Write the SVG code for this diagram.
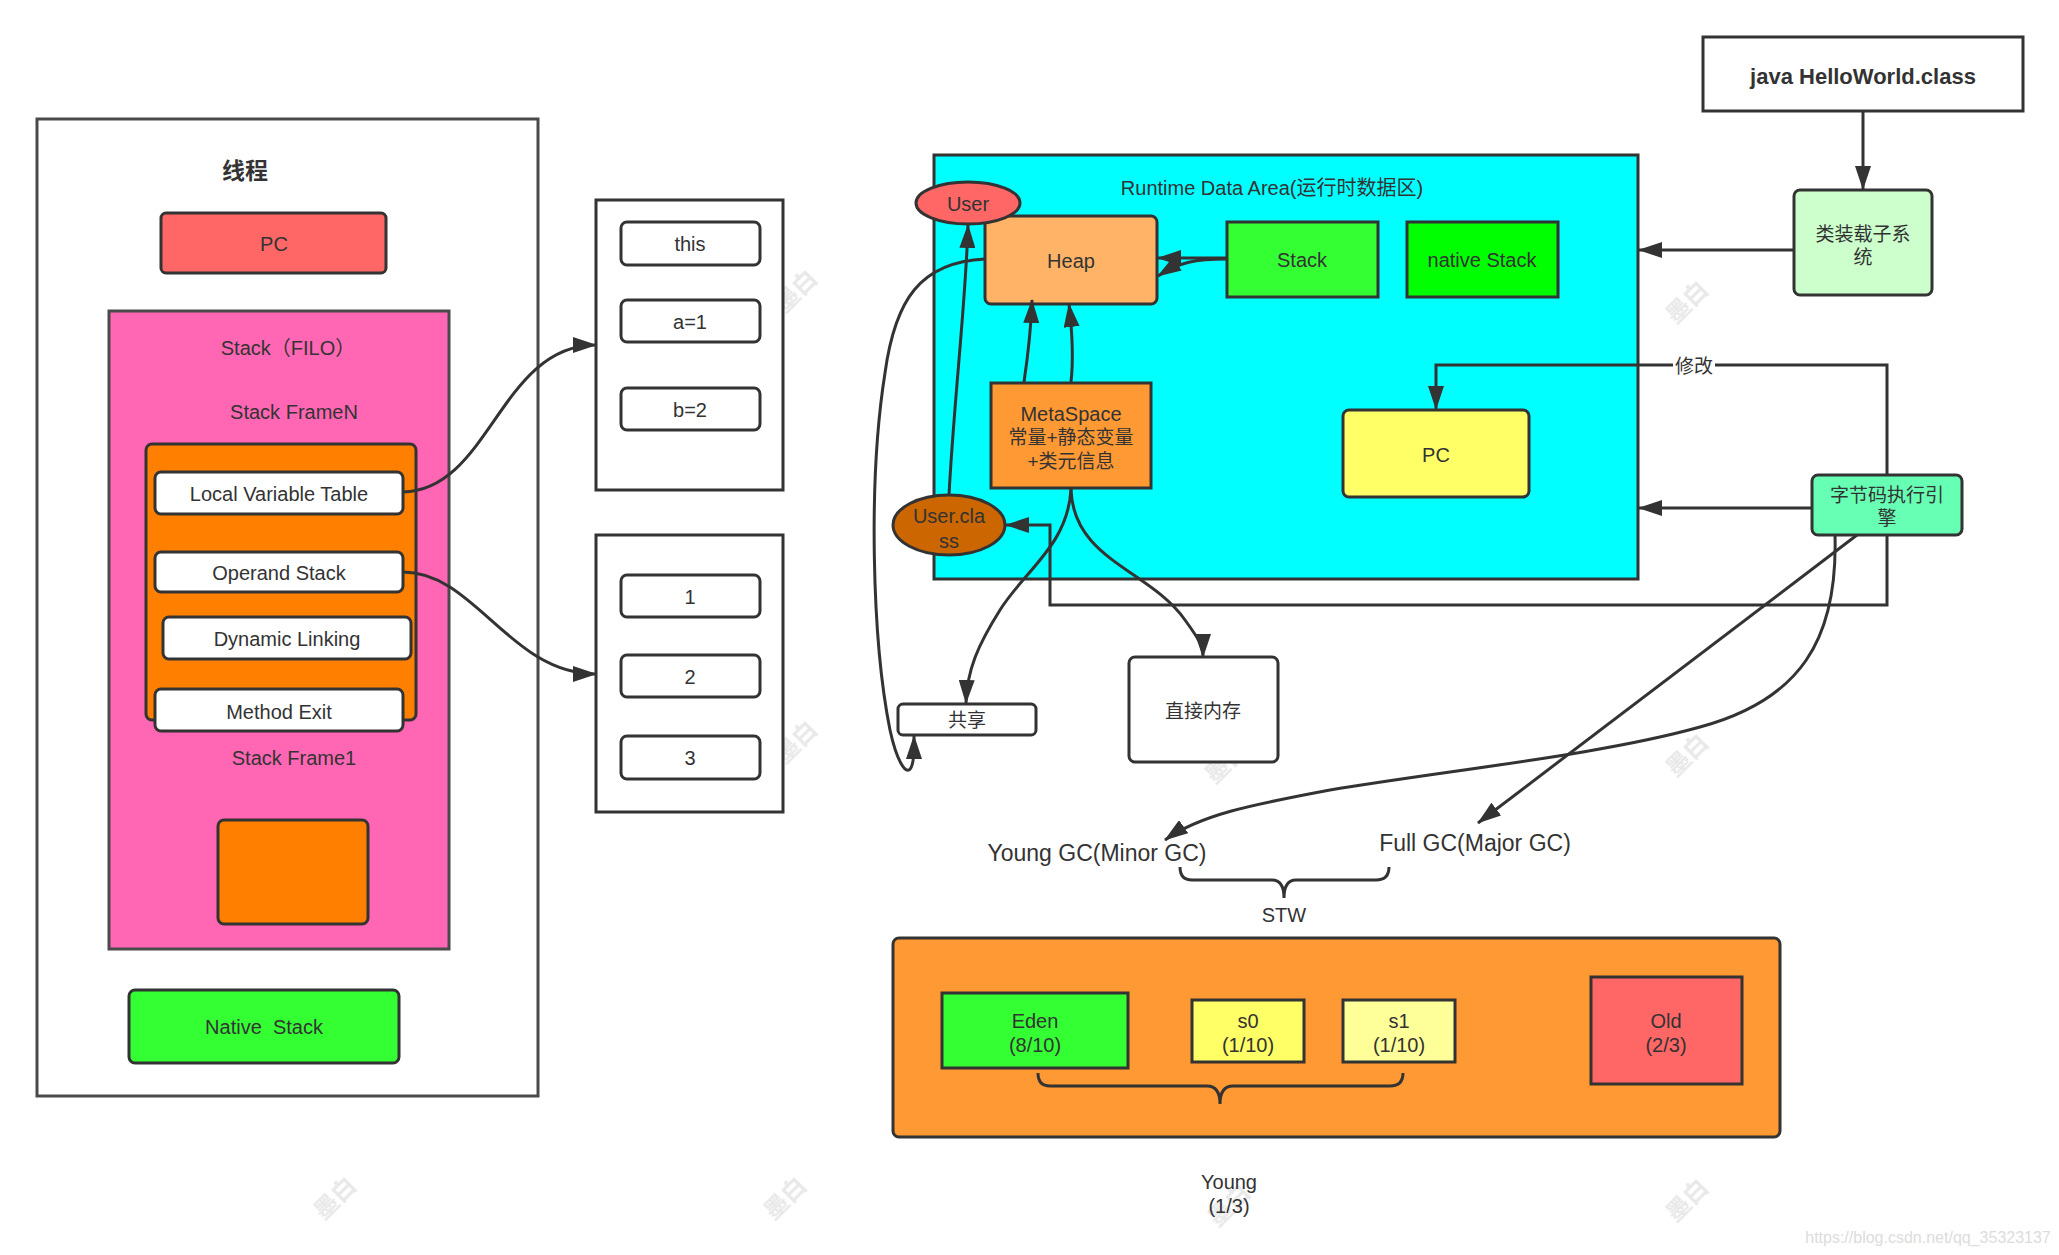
<svg xmlns="http://www.w3.org/2000/svg" width="2059" height="1255" viewBox="0 0 2059 1255">
<defs>
<style>
text{font-family:"Liberation Sans","Noto Sans CJK SC",sans-serif;fill:#333;text-anchor:middle;dominant-baseline:central;font-size:20px}
.s{stroke:#333;stroke-width:3}
.g{stroke:#4a4a4a;stroke-width:3}
.c{fill:none;stroke:#333;stroke-width:3}
.a{marker-end:url(#ah)}
.f19{font-size:19px}
.gc{font-size:23px}
.wm{fill:#e9e9e9;font-size:24px;font-weight:bold}
</style>
<marker id="ah" markerUnits="userSpaceOnUse" markerWidth="24" markerHeight="16" refX="23" refY="8" orient="auto"><path d="M0,0 L24,8 L0,16 Z" fill="#333"/></marker>
</defs>
<rect width="2059" height="1255" fill="#fff"/>
<g id="watermarks">
<text class="wm" transform="translate(796,291) rotate(-45)">墨白</text>
<text class="wm" transform="translate(1687,302) rotate(-45)">墨白</text>
<text class="wm" transform="translate(796,742) rotate(-45)">墨白</text>
<text class="wm" transform="translate(1226,762) rotate(-45)">墨白</text>
<text class="wm" transform="translate(1687,755) rotate(-45)">墨白</text>
<text class="wm" transform="translate(335,1198) rotate(-45)">墨白</text>
<text class="wm" transform="translate(785,1198) rotate(-45)">墨白</text>
<text class="wm" transform="translate(1229,1205) rotate(-45)">墨白</text>
<text class="wm" transform="translate(1687,1200) rotate(-45)">墨白</text>
<text x="1928" y="1237" style="font-size:16px;fill:#dcdcdc">https://blog.csdn.net/qq_35323137</text>
</g>
<g id="thread"><rect x="37" y="119" width="501" height="977" fill="#fff" class="g"/><text x="245" y="171" style="font-size:23px;font-weight:bold">线程</text></g>
<g id="thread-pc"><rect x="161" y="213" width="225" height="60" rx="5" fill="#FF6666" class="s"/><text x="274" y="244">PC</text></g>
<g id="stack"><rect x="109" y="311" width="340" height="638" fill="#FF66B3" class="g"/><text x="288" y="348">Stack（FILO）</text><text x="294" y="412">Stack FrameN</text><text x="294" y="758">Stack Frame1</text></g>
<g id="frameN"><rect x="146" y="444" width="270" height="276" rx="6" fill="#FF8000" class="s"/></g>
<g id="lvt"><rect x="155" y="472" width="248" height="42" rx="6" fill="#fff" class="s"/><text x="279" y="494">Local Variable Table</text></g>
<g id="operand"><rect x="155" y="552" width="248" height="40" rx="6" fill="#fff" class="s"/><text x="279" y="573">Operand Stack</text></g>
<g id="dynlink"><rect x="163" y="617" width="248" height="42" rx="6" fill="#fff" class="s"/><text x="287" y="639">Dynamic Linking</text></g>
<g id="methodexit"><rect x="155" y="689" width="248" height="42" rx="6" fill="#fff" class="s"/><text x="279" y="712">Method Exit</text></g>
<g id="frame1"><rect x="218" y="820" width="150" height="104" rx="6" fill="#FF8000" class="s"/></g>
<g id="nativestack"><rect x="129" y="990" width="270" height="73" rx="6" fill="#33FF33" class="s"/><text x="264" y="1027" style="white-space:pre">Native  Stack</text></g>

<g id="locals"><rect x="596" y="200" width="187" height="290" fill="#fff" class="s"/>
<rect x="621" y="222" width="139" height="43" rx="6" fill="#fff" class="s"/><text x="690" y="244">this</text>
<rect x="621" y="300" width="139" height="42" rx="6" fill="#fff" class="s"/><text x="690" y="322">a=1</text>
<rect x="621" y="388" width="139" height="42" rx="6" fill="#fff" class="s"/><text x="690" y="410">b=2</text></g>
<g id="operands"><rect x="596" y="535" width="187" height="277" fill="#fff" class="s"/>
<rect x="621" y="575" width="139" height="42" rx="6" fill="#fff" class="s"/><text x="690" y="597">1</text>
<rect x="621" y="655" width="139" height="42" rx="6" fill="#fff" class="s"/><text x="690" y="677">2</text>
<rect x="621" y="736" width="139" height="43" rx="6" fill="#fff" class="s"/><text x="690" y="758">3</text></g>

<g id="rda"><rect x="934" y="155" width="704" height="424" fill="#00FFFF" class="s"/><text x="1272" y="188">Runtime Data Area(运行时数据区)</text></g>
<g id="heap"><rect x="985" y="216" width="172" height="88" rx="6" fill="#FFB366" class="s"/><text x="1071" y="261">Heap</text></g>
<g id="rda-stack"><rect x="1227" y="222" width="151" height="75" fill="#33FF33" class="s"/><text x="1302" y="260">Stack</text></g>
<g id="rda-native"><rect x="1407" y="222" width="151" height="75" fill="#00FF00" class="s"/><text x="1482" y="260">native Stack</text></g>
<g id="metaspace"><rect x="991" y="383" width="160" height="105" fill="#FF9933" class="s"/><text x="1071" y="414">MetaSpace</text><text x="1071" y="437" class="f19">常量+静态变量</text><text x="1071" y="461" class="f19">+类元信息</text></g>
<g id="rda-pc"><rect x="1343" y="410" width="186" height="87" rx="6" fill="#FFFF66" class="s"/><text x="1436" y="455">PC</text></g>
<g id="user"><ellipse cx="968" cy="203" rx="52" ry="21" fill="#FF6666" class="s"/><text x="968" y="204">User</text></g>
<g id="userclass"><ellipse cx="949" cy="525" rx="56" ry="30" fill="#CC6600" class="s"/><text x="949" y="516">User.cla</text><text x="949" y="541">ss</text></g>

<g id="javaclass"><rect x="1703" y="37" width="320" height="74" fill="#fff" class="s"/><text x="1863" y="76" style="font-size:22px;font-weight:bold">java HelloWorld.class</text></g>
<g id="classloader"><rect x="1794" y="190" width="138" height="105" rx="6" fill="#CCFFCC" class="s"/><text x="1863" y="234" class="f19">类装载子系</text><text x="1863" y="257" class="f19">统</text></g>
<g id="engine"><rect x="1812" y="475" width="150" height="60" rx="6" fill="#66FFB3" class="s"/><text x="1887" y="495" class="f19">字节码执行引</text><text x="1887" y="518" class="f19">擎</text></g>
<g id="shared"><rect x="898" y="704" width="138" height="31" rx="5" fill="#fff" class="s"/><text x="967" y="720" class="f19">共享</text></g>
<g id="direct"><rect x="1129" y="657" width="149" height="105" rx="6" fill="#fff" class="s"/><text x="1203" y="711" class="f19">直接内存</text></g>

<g id="younggc"><text x="1097" y="853" class="gc">Young GC(Minor GC)</text></g>
<g id="fullgc"><text x="1475" y="843" class="gc">Full GC(Major GC)</text></g>
<g id="stw"><path class="c" d="M1180,867 Q1180,880 1192,880 L1272,880 Q1284,880 1284,898 Q1284,880 1296,880 L1376,880 Q1389,880 1389,867"/><text x="1284" y="915">STW</text></g>

<g id="heaparea"><rect x="893" y="938" width="887" height="199" rx="6" fill="#FF9933" class="s"/></g>
<g id="eden"><rect x="942" y="993" width="186" height="75" fill="#33FF33" class="s"/><text x="1035" y="1021">Eden</text><text x="1035" y="1045">(8/10)</text></g>
<g id="s0"><rect x="1192" y="1000" width="112" height="62" fill="#FFFF66" class="s"/><text x="1248" y="1021">s0</text><text x="1248" y="1045">(1/10)</text></g>
<g id="s1"><rect x="1343" y="1000" width="112" height="62" fill="#FFFF99" class="s"/><text x="1399" y="1021">s1</text><text x="1399" y="1045">(1/10)</text></g>
<g id="old"><rect x="1591" y="977" width="151" height="107" fill="#FF6666" class="s"/><text x="1666" y="1021">Old</text><text x="1666" y="1045">(2/3)</text></g>
<g id="young"><path class="c" d="M1038,1073 Q1038,1086 1050,1086 L1207,1086 Q1220,1086 1220,1104 Q1220,1086 1233,1086 L1390,1086 Q1403,1086 1403,1073"/><text x="1229" y="1182">Young</text><text x="1229" y="1206">(1/3)</text></g>

<g id="connectors">
<path class="c a" d="M403,492 C490,490 500,345 596,345"/>
<path class="c a" d="M403,572 C475,572 510,674 596,674"/>
<path class="c a" d="M1227,258 L1158,258"/>
<path class="c a" d="M1227,259 C1195,259 1180,262 1158,276"/>
<path class="c a" d="M1024,382 C1028,355 1031,330 1032,300"/>
<path class="c a" d="M1071,382 C1074,355 1072,330 1069,304"/>
<path class="c a" d="M949,495 C954,400 966,300 968,225"/>
<path class="c a" d="M985,259 C920,262 895,300 885,373 C868,480 872,640 890,730 C897,762 905,772 909,770 C914,767 914,752 914,736"/>
<path class="c a" d="M1071,489 C1068,545 1025,570 1000,610 C978,645 967,670 966,703"/>
<path class="c a" d="M1071,489 C1073,560 1150,570 1185,620 C1198,638 1203,645 1203,657"/>
<path class="c a" d="M1887,535 L1887,605 L1050,605 L1050,525 L1006,525"/>
<path class="c a" d="M1887,475 L1887,365 L1436,365 L1436,409"/>
<rect x="1673" y="354" width="42" height="24" fill="#fff"/>
<text x="1694" y="366" class="f19">修改</text>
<path class="c a" d="M1863,111 L1863,189"/>
<path class="c a" d="M1793,250 L1639,250"/>
<path class="c a" d="M1812,508 L1639,508"/>
<path class="c a" d="M1857,535 L1478,823"/>
<path class="c a" d="M1835,535 C1838,640 1800,700 1700,727 C1600,755 1450,770 1330,790 C1250,805 1200,815 1165,840"/>
</g>
</svg>
